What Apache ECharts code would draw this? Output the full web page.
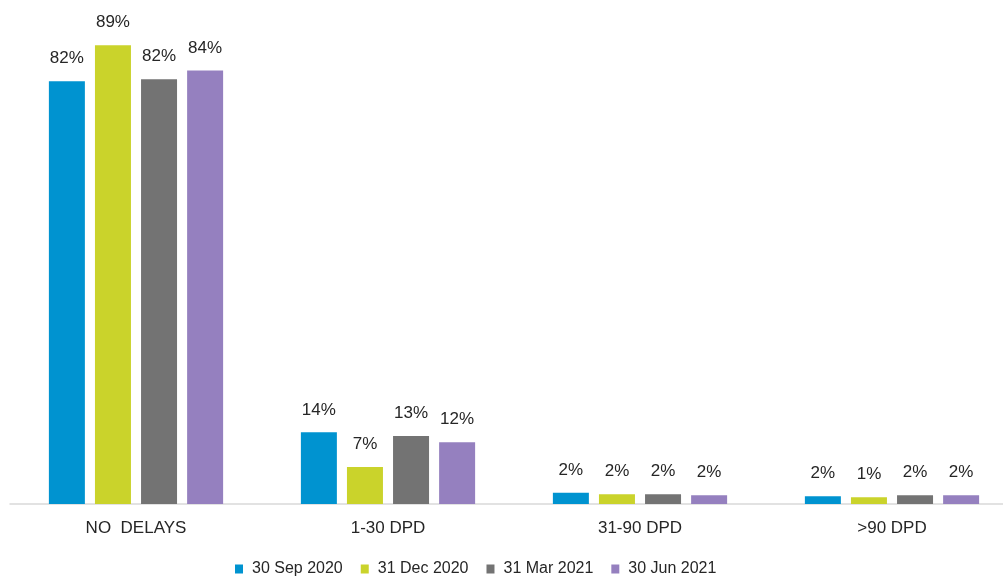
<!DOCTYPE html>
<html>
<head>
<meta charset="utf-8">
<script src="https://cdn.jsdelivr.net/npm/echarts@6/dist/echarts.min.js"></script>
<style>
  html, body { margin: 0; padding: 0; background: #fff; }
  #chart { width: 1003px; height: 579px; }
</style>
</head>
<body>
<div id="chart"></div>
<script>
  // categories and series (share of portfolio, %)
  const categories = ['NO  DELAYS', '1-30 DPD', '31-90 DPD', '>90 DPD']
  const sep2020 = [82.0, 13.9, 2.2, 1.5]
  const dec2020 = [89.0, 7.2, 1.9, 1.3]
  const mar2021 = [82.4, 13.2, 1.9, 1.7]
  const jun2021 = [84.1, 12.0, 1.7, 1.7]

  const colors = ['#0093d0', '#cad32b', '#737373', '#9580bf']
  const names = ['30 Sep 2020', '31 Dec 2020', '31 Mar 2021', '30 Jun 2021']
  const values = [sep2020, dec2020, mar2021, jun2021]

  const chart = echarts.init(document.getElementById('chart'))

  chart.setOption({
    animation: false,
    textStyle: { fontFamily: 'Liberation Sans, Arial, sans-serif' },
    // plot runs a little past the right edge, like the source slide
    grid: { left: 10, width: 1008, top: 40, bottom: 75, outerBoundsMode: 'none' },
    legend: {
      data: names,
      left: 235,
      bottom: 2,
      padding: 0,
      itemWidth: 8,
      itemHeight: 9,
      itemGap: 18,
      icon: 'rect',
      textStyle: { fontSize: 16, color: '#262626', padding: [0, 0, 0, 4] }
    },
    xAxis: {
      type: 'category',
      data: categories,
      axisTick: { show: false },
      axisLine: { lineStyle: { color: '#d9d9d9', width: 1.5 } },
      axisLabel: { fontSize: 17, color: '#262626', margin: 16 }
    },
    yAxis: {
      type: 'value',
      min: 0,
      max: 90,
      show: false,
      splitLine: { show: false }
    },
    series: names.map((name, i) => ({
      name,
      type: 'bar',
      data: values[i],
      barWidth: 36,
      barGap: '28%',
      itemStyle: { color: colors[i] },
      label: {
        show: true,
        position: 'top',
        distance: 14,
        fontSize: 17,
        color: '#262626',
        formatter: p => Math.round(p.value) + '%'
      }
    }))
  })
</script>
</body>
</html>
